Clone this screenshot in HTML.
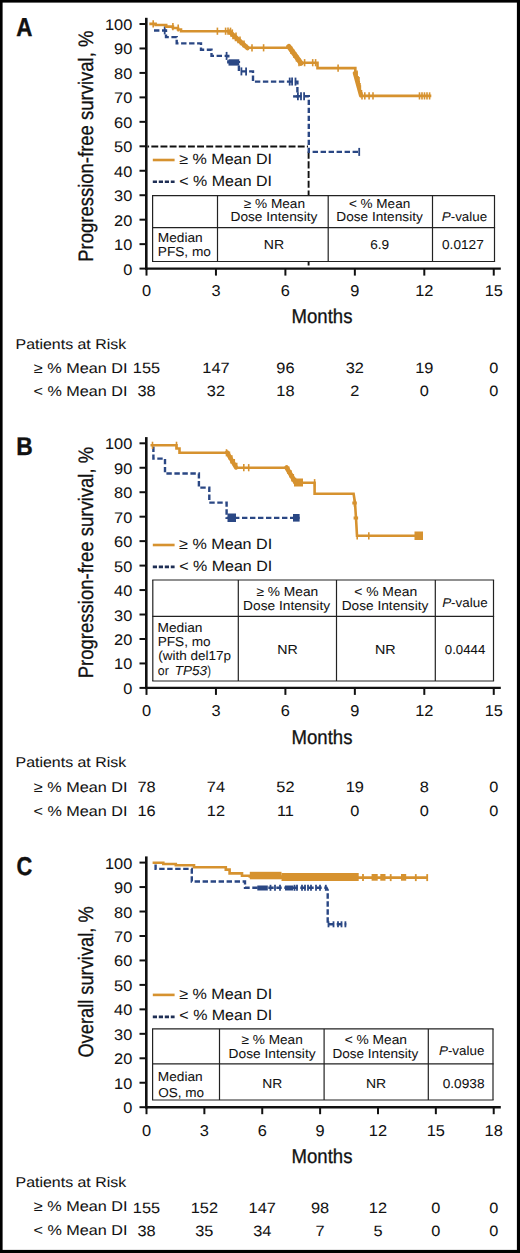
<!DOCTYPE html>
<html><head><meta charset="utf-8"><style>
html,body{margin:0;padding:0;background:#fff;}
body{width:520px;height:1253px;overflow:hidden;}
svg{display:block;}
text{font-family:"Liberation Sans",sans-serif;fill:#111;text-rendering:geometricPrecision;}
</style></head><body>
<svg width="520" height="1253" viewBox="0 0 520 1253">
<rect x="0" y="0" width="520" height="1253" fill="#fff"/>
<text x="16.19" y="36.40" font-size="26.04" textLength="16.17" lengthAdjust="spacingAndGlyphs" style="font-weight:bold;stroke:#111;stroke-width:0.4;">A</text>
<line x1="147.50" y1="146.60" x2="308.00" y2="146.60" stroke="#111" stroke-width="2.0" stroke-dasharray="6.9 2.25" stroke-dashoffset="5.3"/>
<line x1="308.60" y1="151.60" x2="308.60" y2="267.50" stroke="#111" stroke-width="1.9" stroke-dasharray="7.1 2.6"/>
<polyline points="154.00,30.50 166.00,30.50 166.00,37.10 176.70,37.10 176.70,43.40 201.00,43.40 201.00,49.70 211.50,49.70 211.50,55.90 228.30,55.90 228.30,62.30 238.90,62.30 238.90,71.40 253.00,71.40 253.00,81.60 297.40,81.60 297.40,96.30 308.80,96.30 308.80,151.90 359.20,151.90" fill="none" stroke="#2A4784" stroke-width="2.4" stroke-dasharray="5.4 2.6" stroke-linejoin="miter" stroke-linecap="butt"/>
<rect x="228.50" y="59.30" width="10.80" height="6.30" fill="#2A4784"/>
<line x1="293.10" y1="96.40" x2="297.40" y2="96.40" stroke="#2A4784" stroke-width="2.4" />
<line x1="164.70" y1="26.40" x2="164.70" y2="34.40" stroke="#2A4784" stroke-width="1.8" />
<line x1="226.60" y1="51.90" x2="226.60" y2="59.90" stroke="#2A4784" stroke-width="1.8" />
<line x1="241.40" y1="67.40" x2="241.40" y2="75.40" stroke="#2A4784" stroke-width="1.8" />
<line x1="246.10" y1="67.40" x2="246.10" y2="75.40" stroke="#2A4784" stroke-width="1.8" />
<line x1="289.70" y1="77.60" x2="289.70" y2="85.60" stroke="#2A4784" stroke-width="1.8" />
<line x1="292.10" y1="77.60" x2="292.10" y2="85.60" stroke="#2A4784" stroke-width="1.8" />
<line x1="295.50" y1="77.60" x2="295.50" y2="85.60" stroke="#2A4784" stroke-width="1.8" />
<line x1="297.90" y1="92.30" x2="297.90" y2="100.30" stroke="#2A4784" stroke-width="1.8" />
<line x1="301.00" y1="92.30" x2="301.00" y2="100.30" stroke="#2A4784" stroke-width="1.8" />
<line x1="304.10" y1="92.30" x2="304.10" y2="100.30" stroke="#2A4784" stroke-width="1.8" />
<line x1="359.20" y1="147.90" x2="359.20" y2="155.90" stroke="#2A4784" stroke-width="1.8" />
<polyline points="149.30,23.90 155.60,23.90 155.60,25.00 166.20,25.00 166.20,26.60 172.90,26.60 172.90,28.00 178.00,28.00 178.00,29.50 181.00,29.50 181.00,31.20 229.50,31.20 229.50,33.20 231.50,33.20 231.50,35.50 233.50,35.50 233.50,38.00 236.00,38.00 236.00,40.00 238.50,40.00 238.50,42.00 241.00,42.00 241.00,44.00 243.50,44.00 243.50,46.00 246.50,46.00 246.50,47.80 289.00,47.80 291.10,47.80 291.10,50.78 293.20,50.78 293.20,53.76 295.30,53.76 295.30,56.74 297.40,56.74 297.40,59.72 299.50,59.72 299.50,62.70 317.50,62.70 317.50,68.10 354.20,68.10 355.33,68.10 355.33,72.73 356.47,72.73 356.47,77.37 357.60,77.37 357.60,82.00 358.73,82.00 358.73,86.63 359.87,86.63 359.87,91.27 361.00,91.27 361.00,95.90 431.30,95.90" fill="none" stroke="#D6922F" stroke-width="2.6" stroke-linejoin="miter"/>
<line x1="229.50" y1="31.60" x2="247.50" y2="48.00" stroke="#D6922F" stroke-width="4.6" stroke-linecap="round"/>
<line x1="288.80" y1="46.50" x2="301.00" y2="63.20" stroke="#D6922F" stroke-width="5.2" stroke-linecap="round"/>
<line x1="354.60" y1="73.00" x2="360.80" y2="95.50" stroke="#D6922F" stroke-width="3.8" stroke-linecap="round"/>
<line x1="153.20" y1="20.20" x2="153.20" y2="27.40" stroke="#D6922F" stroke-width="1.6" />
<line x1="172.90" y1="23.00" x2="172.90" y2="30.20" stroke="#D6922F" stroke-width="1.6" />
<line x1="178.20" y1="24.40" x2="178.20" y2="31.60" stroke="#D6922F" stroke-width="1.6" />
<line x1="217.40" y1="27.60" x2="217.40" y2="34.80" stroke="#D6922F" stroke-width="1.6" />
<line x1="225.60" y1="27.60" x2="225.60" y2="34.80" stroke="#D6922F" stroke-width="1.6" />
<line x1="228.00" y1="27.60" x2="228.00" y2="34.80" stroke="#D6922F" stroke-width="1.6" />
<line x1="230.50" y1="27.60" x2="230.50" y2="34.80" stroke="#D6922F" stroke-width="1.6" />
<line x1="232.30" y1="29.40" x2="232.30" y2="36.60" stroke="#D6922F" stroke-width="1.6" />
<line x1="236.00" y1="32.40" x2="236.00" y2="39.60" stroke="#D6922F" stroke-width="1.6" />
<line x1="240.00" y1="36.40" x2="240.00" y2="43.60" stroke="#D6922F" stroke-width="1.6" />
<line x1="244.00" y1="40.40" x2="244.00" y2="47.60" stroke="#D6922F" stroke-width="1.6" />
<line x1="252.00" y1="44.20" x2="252.00" y2="51.40" stroke="#D6922F" stroke-width="1.6" />
<line x1="263.60" y1="44.20" x2="263.60" y2="51.40" stroke="#D6922F" stroke-width="1.6" />
<line x1="291.00" y1="46.90" x2="291.00" y2="54.10" stroke="#D6922F" stroke-width="1.6" />
<line x1="294.00" y1="50.90" x2="294.00" y2="58.10" stroke="#D6922F" stroke-width="1.6" />
<line x1="296.50" y1="54.40" x2="296.50" y2="61.60" stroke="#D6922F" stroke-width="1.6" />
<line x1="299.00" y1="59.10" x2="299.00" y2="66.30" stroke="#D6922F" stroke-width="1.6" />
<line x1="304.60" y1="59.10" x2="304.60" y2="66.30" stroke="#D6922F" stroke-width="1.6" />
<line x1="312.70" y1="59.10" x2="312.70" y2="66.30" stroke="#D6922F" stroke-width="1.6" />
<line x1="315.60" y1="59.10" x2="315.60" y2="66.30" stroke="#D6922F" stroke-width="1.6" />
<line x1="338.10" y1="64.50" x2="338.10" y2="71.70" stroke="#D6922F" stroke-width="1.6" />
<line x1="357.00" y1="70.60" x2="357.00" y2="77.80" stroke="#D6922F" stroke-width="1.6" />
<line x1="359.00" y1="76.90" x2="359.00" y2="84.10" stroke="#D6922F" stroke-width="1.6" />
<line x1="360.00" y1="83.10" x2="360.00" y2="90.30" stroke="#D6922F" stroke-width="1.6" />
<line x1="362.00" y1="92.30" x2="362.00" y2="99.50" stroke="#D6922F" stroke-width="1.6" />
<line x1="364.80" y1="92.30" x2="364.80" y2="99.50" stroke="#D6922F" stroke-width="1.6" />
<line x1="369.10" y1="92.30" x2="369.10" y2="99.50" stroke="#D6922F" stroke-width="1.6" />
<line x1="373.00" y1="92.30" x2="373.00" y2="99.50" stroke="#D6922F" stroke-width="1.6" />
<line x1="419.50" y1="92.30" x2="419.50" y2="99.50" stroke="#D6922F" stroke-width="1.6" />
<line x1="422.00" y1="92.30" x2="422.00" y2="99.50" stroke="#D6922F" stroke-width="1.6" />
<line x1="424.50" y1="92.30" x2="424.50" y2="99.50" stroke="#D6922F" stroke-width="1.6" />
<line x1="427.00" y1="92.30" x2="427.00" y2="99.50" stroke="#D6922F" stroke-width="1.6" />
<line x1="429.60" y1="92.30" x2="429.60" y2="99.50" stroke="#D6922F" stroke-width="1.6" />
<line x1="152.80" y1="160.00" x2="174.60" y2="160.00" stroke="#D6922F" stroke-width="2.6" />
<line x1="152.80" y1="181.80" x2="174.60" y2="181.80" stroke="#1F2F55" stroke-width="2.6" stroke-dasharray="4.2 1.8"/>
<text x="179.19" y="164.28" font-size="14.73" textLength="92.83" lengthAdjust="spacingAndGlyphs" style="stroke:#111;stroke-width:0.05;">≥ % Mean DI</text>
<text x="179.38" y="186.17" font-size="14.73" textLength="92.63" lengthAdjust="spacingAndGlyphs" style="stroke:#111;stroke-width:0.05;">&lt; % Mean DI</text>
<rect x="152.60" y="195.70" width="341.90" height="65.80" fill="#fff"/>
<line x1="152.00" y1="195.70" x2="495.10" y2="195.70" stroke="#222" stroke-width="1.2" />
<line x1="152.00" y1="227.70" x2="495.10" y2="227.70" stroke="#222" stroke-width="1.2" />
<line x1="152.00" y1="261.50" x2="495.10" y2="261.50" stroke="#222" stroke-width="1.2" />
<line x1="152.60" y1="195.70" x2="152.60" y2="261.50" stroke="#222" stroke-width="1.2" />
<line x1="217.50" y1="195.70" x2="217.50" y2="261.50" stroke="#222" stroke-width="1.2" />
<line x1="328.20" y1="195.70" x2="328.20" y2="261.50" stroke="#222" stroke-width="1.2" />
<line x1="432.50" y1="195.70" x2="432.50" y2="261.50" stroke="#222" stroke-width="1.2" />
<line x1="494.50" y1="195.70" x2="494.50" y2="261.50" stroke="#222" stroke-width="1.2" />
<text x="157.78" y="242.28" font-size="12.93" textLength="44.94" lengthAdjust="spacingAndGlyphs" style="stroke:#111;stroke-width:0.05;">Median</text>
<text x="157.78" y="255.88" font-size="12.93" textLength="53.19" lengthAdjust="spacingAndGlyphs" style="stroke:#111;stroke-width:0.05;">PFS, mo</text>
<text x="243.77" y="207.78" font-size="12.93" textLength="61.25" lengthAdjust="spacingAndGlyphs" style="stroke:#111;stroke-width:0.05;">≥ % Mean</text>
<text x="230.48" y="221.17" font-size="12.93" textLength="86.94" lengthAdjust="spacingAndGlyphs" style="stroke:#111;stroke-width:0.05;">Dose Intensity</text>
<text x="263.85" y="249.47" font-size="12.93" textLength="20.27" lengthAdjust="spacingAndGlyphs" style="stroke:#111;stroke-width:0.05;">NR</text>
<text x="348.90" y="207.78" font-size="12.93" textLength="61.31" lengthAdjust="spacingAndGlyphs" style="stroke:#111;stroke-width:0.05;">&lt; % Mean</text>
<text x="336.28" y="221.17" font-size="12.93" textLength="86.53" lengthAdjust="spacingAndGlyphs" style="stroke:#111;stroke-width:0.05;">Dose Intensity</text>
<text x="370.19" y="249.28" font-size="12.93" textLength="18.95" lengthAdjust="spacingAndGlyphs" style="stroke:#111;stroke-width:0.05;">6.9</text>
<text x="441.77" y="221.38" font-size="12.83" textLength="8.92" lengthAdjust="spacingAndGlyphs" style="font-style:italic;stroke:#111;stroke-width:0.05">P</text>
<text x="450.69" y="221.38" font-size="12.83" textLength="36.42" lengthAdjust="spacingAndGlyphs" style="stroke:#111;stroke-width:0.05">-value</text>
<text x="442.03" y="249.28" font-size="12.93" textLength="41.76" lengthAdjust="spacingAndGlyphs" style="stroke:#111;stroke-width:0.05;">0.0127</text>
<line x1="146.30" y1="17.80" x2="146.30" y2="269.80" stroke="#111" stroke-width="2.6" />
<line x1="145.30" y1="268.60" x2="500.80" y2="268.60" stroke="#111" stroke-width="2.4" />
<line x1="139.50" y1="268.60" x2="146.50" y2="268.60" stroke="#111" stroke-width="2.0" />
<text x="123.15" y="274.60" font-size="15.33" textLength="9.10" lengthAdjust="spacingAndGlyphs" style="stroke:#111;stroke-width:0.05;">0</text>
<line x1="139.50" y1="244.14" x2="146.50" y2="244.14" stroke="#111" stroke-width="2.0" />
<text x="114.07" y="250.14" font-size="15.33" textLength="18.19" lengthAdjust="spacingAndGlyphs" style="stroke:#111;stroke-width:0.05;">10</text>
<line x1="139.50" y1="219.68" x2="146.50" y2="219.68" stroke="#111" stroke-width="2.0" />
<text x="114.07" y="225.68" font-size="15.33" textLength="18.19" lengthAdjust="spacingAndGlyphs" style="stroke:#111;stroke-width:0.05;">20</text>
<line x1="139.50" y1="195.22" x2="146.50" y2="195.22" stroke="#111" stroke-width="2.0" />
<text x="114.07" y="201.22" font-size="15.33" textLength="18.19" lengthAdjust="spacingAndGlyphs" style="stroke:#111;stroke-width:0.05;">30</text>
<line x1="139.50" y1="170.76" x2="146.50" y2="170.76" stroke="#111" stroke-width="2.0" />
<text x="114.07" y="176.76" font-size="15.33" textLength="18.19" lengthAdjust="spacingAndGlyphs" style="stroke:#111;stroke-width:0.05;">40</text>
<line x1="139.50" y1="146.30" x2="146.50" y2="146.30" stroke="#111" stroke-width="2.0" />
<text x="114.07" y="152.30" font-size="15.33" textLength="18.19" lengthAdjust="spacingAndGlyphs" style="stroke:#111;stroke-width:0.05;">50</text>
<line x1="139.50" y1="121.84" x2="146.50" y2="121.84" stroke="#111" stroke-width="2.0" />
<text x="114.07" y="127.84" font-size="15.33" textLength="18.19" lengthAdjust="spacingAndGlyphs" style="stroke:#111;stroke-width:0.05;">60</text>
<line x1="139.50" y1="97.38" x2="146.50" y2="97.38" stroke="#111" stroke-width="2.0" />
<text x="114.07" y="103.38" font-size="15.33" textLength="18.19" lengthAdjust="spacingAndGlyphs" style="stroke:#111;stroke-width:0.05;">70</text>
<line x1="139.50" y1="72.92" x2="146.50" y2="72.92" stroke="#111" stroke-width="2.0" />
<text x="114.07" y="78.92" font-size="15.33" textLength="18.19" lengthAdjust="spacingAndGlyphs" style="stroke:#111;stroke-width:0.05;">80</text>
<line x1="139.50" y1="48.46" x2="146.50" y2="48.46" stroke="#111" stroke-width="2.0" />
<text x="114.07" y="54.46" font-size="15.33" textLength="18.19" lengthAdjust="spacingAndGlyphs" style="stroke:#111;stroke-width:0.05;">90</text>
<line x1="139.50" y1="24.00" x2="146.50" y2="24.00" stroke="#111" stroke-width="2.0" />
<text x="104.99" y="30.00" font-size="15.33" textLength="27.29" lengthAdjust="spacingAndGlyphs" style="stroke:#111;stroke-width:0.05;">100</text>
<line x1="146.50" y1="268.60" x2="146.50" y2="275.60" stroke="#111" stroke-width="2.0" />
<text x="141.95" y="295.58" font-size="15.73" textLength="9.10" lengthAdjust="spacingAndGlyphs" style="stroke:#111;stroke-width:0.05;">0</text>
<line x1="215.95" y1="268.60" x2="215.95" y2="275.60" stroke="#111" stroke-width="2.0" />
<text x="211.40" y="295.58" font-size="15.73" textLength="9.10" lengthAdjust="spacingAndGlyphs" style="stroke:#111;stroke-width:0.05;">3</text>
<line x1="285.40" y1="268.60" x2="285.40" y2="275.60" stroke="#111" stroke-width="2.0" />
<text x="280.85" y="295.58" font-size="15.73" textLength="9.10" lengthAdjust="spacingAndGlyphs" style="stroke:#111;stroke-width:0.05;">6</text>
<line x1="354.85" y1="268.60" x2="354.85" y2="275.60" stroke="#111" stroke-width="2.0" />
<text x="350.30" y="295.58" font-size="15.73" textLength="9.10" lengthAdjust="spacingAndGlyphs" style="stroke:#111;stroke-width:0.05;">9</text>
<line x1="424.30" y1="268.60" x2="424.30" y2="275.60" stroke="#111" stroke-width="2.0" />
<text x="415.20" y="295.58" font-size="15.73" textLength="18.20" lengthAdjust="spacingAndGlyphs" style="stroke:#111;stroke-width:0.05;">12</text>
<line x1="493.75" y1="268.60" x2="493.75" y2="275.60" stroke="#111" stroke-width="2.0" />
<text x="484.65" y="295.58" font-size="15.73" textLength="18.20" lengthAdjust="spacingAndGlyphs" style="stroke:#111;stroke-width:0.05;">15</text>
<text x="291.51" y="323.35" font-size="20.08" textLength="60.92" lengthAdjust="spacingAndGlyphs" style="stroke:#111;stroke-width:0.3;">Months</text>
<text transform="translate(92.65,261.78) rotate(-90)" x="0" y="0" font-size="20.88" textLength="231.12" lengthAdjust="spacingAndGlyphs" style="stroke:#111;stroke-width:0.3;">Progression-free survival, %</text>
<text x="15.60" y="349.18" font-size="14.23" textLength="110.56" lengthAdjust="spacingAndGlyphs" style="stroke:#111;stroke-width:0.05;">Patients at Risk</text>
<text x="33.89" y="373.18" font-size="14.23" textLength="93.54" lengthAdjust="spacingAndGlyphs" style="stroke:#111;stroke-width:0.05;">≥ % Mean DI</text>
<text x="33.57" y="396.28" font-size="14.23" textLength="93.86" lengthAdjust="spacingAndGlyphs" style="stroke:#111;stroke-width:0.05;">&lt; % Mean DI</text>
<text x="132.86" y="372.78" font-size="14.93" textLength="27.28" lengthAdjust="spacingAndGlyphs" style="stroke:#111;stroke-width:0.05;">155</text>
<text x="202.31" y="372.78" font-size="14.93" textLength="27.28" lengthAdjust="spacingAndGlyphs" style="stroke:#111;stroke-width:0.05;">147</text>
<text x="276.31" y="372.78" font-size="14.93" textLength="18.18" lengthAdjust="spacingAndGlyphs" style="stroke:#111;stroke-width:0.05;">96</text>
<text x="345.76" y="372.78" font-size="14.93" textLength="18.18" lengthAdjust="spacingAndGlyphs" style="stroke:#111;stroke-width:0.05;">32</text>
<text x="415.21" y="372.78" font-size="14.93" textLength="18.18" lengthAdjust="spacingAndGlyphs" style="stroke:#111;stroke-width:0.05;">19</text>
<text x="489.20" y="372.78" font-size="14.93" textLength="9.09" lengthAdjust="spacingAndGlyphs" style="stroke:#111;stroke-width:0.05;">0</text>
<text x="137.41" y="396.48" font-size="14.93" textLength="18.18" lengthAdjust="spacingAndGlyphs" style="stroke:#111;stroke-width:0.05;">38</text>
<text x="206.86" y="396.48" font-size="14.93" textLength="18.18" lengthAdjust="spacingAndGlyphs" style="stroke:#111;stroke-width:0.05;">32</text>
<text x="276.31" y="396.48" font-size="14.93" textLength="18.18" lengthAdjust="spacingAndGlyphs" style="stroke:#111;stroke-width:0.05;">18</text>
<text x="350.30" y="396.48" font-size="14.93" textLength="9.09" lengthAdjust="spacingAndGlyphs" style="stroke:#111;stroke-width:0.05;">2</text>
<text x="419.75" y="396.48" font-size="14.93" textLength="9.09" lengthAdjust="spacingAndGlyphs" style="stroke:#111;stroke-width:0.05;">0</text>
<text x="489.20" y="396.48" font-size="14.93" textLength="9.09" lengthAdjust="spacingAndGlyphs" style="stroke:#111;stroke-width:0.05;">0</text>
<text x="16.37" y="455.30" font-size="25.64" textLength="16.46" lengthAdjust="spacingAndGlyphs" style="font-weight:bold;stroke:#111;stroke-width:0.4;">B</text>
<polyline points="153.40,446.50 153.40,458.60 165.00,458.60 165.00,473.50 198.90,473.50 198.90,487.60 209.30,487.60 209.30,502.60 226.60,502.60 226.60,517.90 299.60,517.90" fill="none" stroke="#2A4784" stroke-width="2.4" stroke-dasharray="5.4 2.6" stroke-linejoin="miter" stroke-linecap="butt"/>
<rect x="227.50" y="513.50" width="8.50" height="8.50" fill="#2A4784"/>
<rect x="293.00" y="514.00" width="6.60" height="7.60" fill="#2A4784"/>
<polyline points="150.50,445.30 176.50,445.30 176.50,448.50 179.50,448.50 179.50,452.80 226.50,452.80 228.93,452.80 228.93,456.52 231.35,456.52 231.35,460.25 233.77,460.25 233.77,463.98 236.20,463.98 236.20,467.70 286.00,467.70 288.25,467.70 288.25,471.45 290.50,471.45 290.50,475.20 292.75,475.20 292.75,478.95 295.00,478.95 295.00,482.70 314.60,482.70 314.60,493.70 353.60,493.70 355.00,503.00 356.00,518.00 357.00,535.80 422.70,535.80" fill="none" stroke="#D6922F" stroke-width="2.6" stroke-linejoin="miter"/>
<rect x="294.00" y="478.50" width="9.00" height="8.00" fill="#D6922F"/>
<line x1="227.20" y1="452.50" x2="236.00" y2="467.50" stroke="#D6922F" stroke-width="4.4" stroke-linecap="round"/>
<line x1="286.50" y1="467.50" x2="295.50" y2="482.50" stroke="#D6922F" stroke-width="4.6" stroke-linecap="round"/>
<rect x="414.50" y="531.50" width="8.50" height="8.50" fill="#D6922F"/>
<rect x="352.30" y="501.50" width="4.50" height="3.00" fill="#D6922F"/>
<rect x="353.60" y="516.50" width="4.50" height="3.00" fill="#D6922F"/>
<line x1="152.50" y1="441.70" x2="152.50" y2="448.90" stroke="#D6922F" stroke-width="1.6" />
<line x1="176.50" y1="441.70" x2="176.50" y2="448.90" stroke="#D6922F" stroke-width="1.6" />
<line x1="226.50" y1="449.20" x2="226.50" y2="456.40" stroke="#D6922F" stroke-width="1.6" />
<line x1="229.00" y1="452.40" x2="229.00" y2="459.60" stroke="#D6922F" stroke-width="1.6" />
<line x1="231.00" y1="456.40" x2="231.00" y2="463.60" stroke="#D6922F" stroke-width="1.6" />
<line x1="243.80" y1="464.10" x2="243.80" y2="471.30" stroke="#D6922F" stroke-width="1.6" />
<line x1="248.70" y1="464.10" x2="248.70" y2="471.30" stroke="#D6922F" stroke-width="1.6" />
<line x1="288.00" y1="466.90" x2="288.00" y2="474.10" stroke="#D6922F" stroke-width="1.6" />
<line x1="290.00" y1="470.40" x2="290.00" y2="477.60" stroke="#D6922F" stroke-width="1.6" />
<line x1="292.00" y1="474.40" x2="292.00" y2="481.60" stroke="#D6922F" stroke-width="1.6" />
<line x1="314.60" y1="479.10" x2="314.60" y2="486.30" stroke="#D6922F" stroke-width="1.6" />
<line x1="354.50" y1="499.40" x2="354.50" y2="506.60" stroke="#D6922F" stroke-width="1.6" />
<line x1="355.80" y1="514.40" x2="355.80" y2="521.60" stroke="#D6922F" stroke-width="1.6" />
<line x1="357.20" y1="532.20" x2="357.20" y2="539.40" stroke="#D6922F" stroke-width="1.6" />
<line x1="368.80" y1="532.20" x2="368.80" y2="539.40" stroke="#D6922F" stroke-width="1.6" />
<line x1="152.80" y1="545.00" x2="174.60" y2="545.00" stroke="#D6922F" stroke-width="2.6" />
<line x1="152.80" y1="566.90" x2="174.60" y2="566.90" stroke="#1F2F55" stroke-width="2.6" stroke-dasharray="4.2 1.8"/>
<text x="179.09" y="549.27" font-size="14.73" textLength="93.13" lengthAdjust="spacingAndGlyphs" style="stroke:#111;stroke-width:0.05;">≥ % Mean DI</text>
<text x="179.27" y="571.18" font-size="14.73" textLength="92.94" lengthAdjust="spacingAndGlyphs" style="stroke:#111;stroke-width:0.05;">&lt; % Mean DI</text>
<rect x="152.80" y="580.00" width="340.70" height="101.00" fill="#fff"/>
<line x1="152.20" y1="580.00" x2="494.10" y2="580.00" stroke="#222" stroke-width="1.2" />
<line x1="152.20" y1="616.30" x2="494.10" y2="616.30" stroke="#222" stroke-width="1.2" />
<line x1="152.20" y1="681.00" x2="494.10" y2="681.00" stroke="#222" stroke-width="1.2" />
<line x1="152.80" y1="580.00" x2="152.80" y2="681.00" stroke="#222" stroke-width="1.2" />
<line x1="238.30" y1="580.00" x2="238.30" y2="681.00" stroke="#222" stroke-width="1.2" />
<line x1="336.50" y1="580.00" x2="336.50" y2="681.00" stroke="#222" stroke-width="1.2" />
<line x1="435.30" y1="580.00" x2="435.30" y2="681.00" stroke="#222" stroke-width="1.2" />
<line x1="493.50" y1="580.00" x2="493.50" y2="681.00" stroke="#222" stroke-width="1.2" />
<text x="157.48" y="631.98" font-size="12.93" textLength="45.04" lengthAdjust="spacingAndGlyphs" style="stroke:#111;stroke-width:0.05;">Median</text>
<text x="157.69" y="646.18" font-size="12.93" textLength="52.98" lengthAdjust="spacingAndGlyphs" style="stroke:#111;stroke-width:0.05;">PFS, mo</text>
<text x="158.26" y="660.38" font-size="12.93" textLength="72.83" lengthAdjust="spacingAndGlyphs" style="stroke:#111;stroke-width:0.05;">(with del17p</text>
<text x="157.78" y="674.77" font-size="12.93" textLength="10.98" lengthAdjust="spacingAndGlyphs" style="stroke:#111;stroke-width:0.05;">or</text>
<text x="174.86" y="674.77" font-size="12.93" textLength="32.20" lengthAdjust="spacingAndGlyphs" style="font-style:italic;stroke:#111;stroke-width:0.05;">TP53</text>
<text x="207.47" y="674.77" font-size="12.93" textLength="3.39" lengthAdjust="spacingAndGlyphs" style="stroke:#111;stroke-width:0.05;">)</text>
<text x="256.46" y="596.18" font-size="12.93" textLength="61.76" lengthAdjust="spacingAndGlyphs" style="stroke:#111;stroke-width:0.05;">≥ % Mean</text>
<text x="243.08" y="609.58" font-size="12.93" textLength="87.04" lengthAdjust="spacingAndGlyphs" style="stroke:#111;stroke-width:0.05;">Dose Intensity</text>
<text x="277.24" y="654.18" font-size="12.93" textLength="20.48" lengthAdjust="spacingAndGlyphs" style="stroke:#111;stroke-width:0.05;">NR</text>
<text x="354.18" y="596.18" font-size="12.93" textLength="62.95" lengthAdjust="spacingAndGlyphs" style="stroke:#111;stroke-width:0.05;">&lt; % Mean</text>
<text x="341.68" y="609.58" font-size="12.93" textLength="86.73" lengthAdjust="spacingAndGlyphs" style="stroke:#111;stroke-width:0.05;">Dose Intensity</text>
<text x="375.03" y="654.18" font-size="12.93" textLength="20.70" lengthAdjust="spacingAndGlyphs" style="stroke:#111;stroke-width:0.05;">NR</text>
<text x="442.17" y="607.38" font-size="12.83" textLength="8.94" lengthAdjust="spacingAndGlyphs" style="font-style:italic;stroke:#111;stroke-width:0.05">P</text>
<text x="451.11" y="607.38" font-size="12.83" textLength="36.50" lengthAdjust="spacingAndGlyphs" style="stroke:#111;stroke-width:0.05">-value</text>
<text x="444.85" y="654.18" font-size="12.93" textLength="40.46" lengthAdjust="spacingAndGlyphs" style="stroke:#111;stroke-width:0.05;">0.0444</text>
<line x1="146.30" y1="437.10" x2="146.30" y2="689.10" stroke="#111" stroke-width="2.6" />
<line x1="145.30" y1="687.90" x2="500.80" y2="687.90" stroke="#111" stroke-width="2.4" />
<line x1="139.50" y1="687.90" x2="146.50" y2="687.90" stroke="#111" stroke-width="2.0" />
<text x="123.15" y="693.90" font-size="15.33" textLength="9.10" lengthAdjust="spacingAndGlyphs" style="stroke:#111;stroke-width:0.05;">0</text>
<line x1="139.50" y1="663.44" x2="146.50" y2="663.44" stroke="#111" stroke-width="2.0" />
<text x="114.07" y="669.44" font-size="15.33" textLength="18.19" lengthAdjust="spacingAndGlyphs" style="stroke:#111;stroke-width:0.05;">10</text>
<line x1="139.50" y1="638.98" x2="146.50" y2="638.98" stroke="#111" stroke-width="2.0" />
<text x="114.07" y="644.98" font-size="15.33" textLength="18.19" lengthAdjust="spacingAndGlyphs" style="stroke:#111;stroke-width:0.05;">20</text>
<line x1="139.50" y1="614.52" x2="146.50" y2="614.52" stroke="#111" stroke-width="2.0" />
<text x="114.07" y="620.52" font-size="15.33" textLength="18.19" lengthAdjust="spacingAndGlyphs" style="stroke:#111;stroke-width:0.05;">30</text>
<line x1="139.50" y1="590.06" x2="146.50" y2="590.06" stroke="#111" stroke-width="2.0" />
<text x="114.07" y="596.06" font-size="15.33" textLength="18.19" lengthAdjust="spacingAndGlyphs" style="stroke:#111;stroke-width:0.05;">40</text>
<line x1="139.50" y1="565.60" x2="146.50" y2="565.60" stroke="#111" stroke-width="2.0" />
<text x="114.07" y="571.60" font-size="15.33" textLength="18.19" lengthAdjust="spacingAndGlyphs" style="stroke:#111;stroke-width:0.05;">50</text>
<line x1="139.50" y1="541.14" x2="146.50" y2="541.14" stroke="#111" stroke-width="2.0" />
<text x="114.07" y="547.14" font-size="15.33" textLength="18.19" lengthAdjust="spacingAndGlyphs" style="stroke:#111;stroke-width:0.05;">60</text>
<line x1="139.50" y1="516.68" x2="146.50" y2="516.68" stroke="#111" stroke-width="2.0" />
<text x="114.07" y="522.68" font-size="15.33" textLength="18.19" lengthAdjust="spacingAndGlyphs" style="stroke:#111;stroke-width:0.05;">70</text>
<line x1="139.50" y1="492.22" x2="146.50" y2="492.22" stroke="#111" stroke-width="2.0" />
<text x="114.07" y="498.22" font-size="15.33" textLength="18.19" lengthAdjust="spacingAndGlyphs" style="stroke:#111;stroke-width:0.05;">80</text>
<line x1="139.50" y1="467.76" x2="146.50" y2="467.76" stroke="#111" stroke-width="2.0" />
<text x="114.07" y="473.76" font-size="15.33" textLength="18.19" lengthAdjust="spacingAndGlyphs" style="stroke:#111;stroke-width:0.05;">90</text>
<line x1="139.50" y1="443.30" x2="146.50" y2="443.30" stroke="#111" stroke-width="2.0" />
<text x="104.99" y="449.30" font-size="15.33" textLength="27.29" lengthAdjust="spacingAndGlyphs" style="stroke:#111;stroke-width:0.05;">100</text>
<line x1="146.50" y1="687.90" x2="146.50" y2="694.90" stroke="#111" stroke-width="2.0" />
<text x="141.95" y="716.08" font-size="15.73" textLength="9.10" lengthAdjust="spacingAndGlyphs" style="stroke:#111;stroke-width:0.05;">0</text>
<line x1="215.95" y1="687.90" x2="215.95" y2="694.90" stroke="#111" stroke-width="2.0" />
<text x="211.40" y="716.08" font-size="15.73" textLength="9.10" lengthAdjust="spacingAndGlyphs" style="stroke:#111;stroke-width:0.05;">3</text>
<line x1="285.40" y1="687.90" x2="285.40" y2="694.90" stroke="#111" stroke-width="2.0" />
<text x="280.85" y="716.08" font-size="15.73" textLength="9.10" lengthAdjust="spacingAndGlyphs" style="stroke:#111;stroke-width:0.05;">6</text>
<line x1="354.85" y1="687.90" x2="354.85" y2="694.90" stroke="#111" stroke-width="2.0" />
<text x="350.30" y="716.08" font-size="15.73" textLength="9.10" lengthAdjust="spacingAndGlyphs" style="stroke:#111;stroke-width:0.05;">9</text>
<line x1="424.30" y1="687.90" x2="424.30" y2="694.90" stroke="#111" stroke-width="2.0" />
<text x="415.20" y="716.08" font-size="15.73" textLength="18.20" lengthAdjust="spacingAndGlyphs" style="stroke:#111;stroke-width:0.05;">12</text>
<line x1="493.75" y1="687.90" x2="493.75" y2="694.90" stroke="#111" stroke-width="2.0" />
<text x="484.65" y="716.08" font-size="15.73" textLength="18.20" lengthAdjust="spacingAndGlyphs" style="stroke:#111;stroke-width:0.05;">15</text>
<text x="291.51" y="744.35" font-size="20.08" textLength="60.92" lengthAdjust="spacingAndGlyphs" style="stroke:#111;stroke-width:0.3;">Months</text>
<text transform="translate(92.65,678.28) rotate(-90)" x="0" y="0" font-size="20.88" textLength="231.52" lengthAdjust="spacingAndGlyphs" style="stroke:#111;stroke-width:0.3;">Progression-free survival, %</text>
<text x="15.60" y="767.48" font-size="14.23" textLength="110.56" lengthAdjust="spacingAndGlyphs" style="stroke:#111;stroke-width:0.05;">Patients at Risk</text>
<text x="33.89" y="791.98" font-size="14.23" textLength="93.54" lengthAdjust="spacingAndGlyphs" style="stroke:#111;stroke-width:0.05;">≥ % Mean DI</text>
<text x="33.57" y="815.77" font-size="14.23" textLength="93.86" lengthAdjust="spacingAndGlyphs" style="stroke:#111;stroke-width:0.05;">&lt; % Mean DI</text>
<text x="137.41" y="792.18" font-size="14.93" textLength="18.18" lengthAdjust="spacingAndGlyphs" style="stroke:#111;stroke-width:0.05;">78</text>
<text x="206.86" y="792.18" font-size="14.93" textLength="18.18" lengthAdjust="spacingAndGlyphs" style="stroke:#111;stroke-width:0.05;">74</text>
<text x="276.31" y="792.18" font-size="14.93" textLength="18.18" lengthAdjust="spacingAndGlyphs" style="stroke:#111;stroke-width:0.05;">52</text>
<text x="345.76" y="792.18" font-size="14.93" textLength="18.18" lengthAdjust="spacingAndGlyphs" style="stroke:#111;stroke-width:0.05;">19</text>
<text x="419.75" y="792.18" font-size="14.93" textLength="9.09" lengthAdjust="spacingAndGlyphs" style="stroke:#111;stroke-width:0.05;">8</text>
<text x="489.20" y="792.18" font-size="14.93" textLength="9.09" lengthAdjust="spacingAndGlyphs" style="stroke:#111;stroke-width:0.05;">0</text>
<text x="137.41" y="815.88" font-size="14.93" textLength="18.18" lengthAdjust="spacingAndGlyphs" style="stroke:#111;stroke-width:0.05;">16</text>
<text x="206.86" y="815.88" font-size="14.93" textLength="18.18" lengthAdjust="spacingAndGlyphs" style="stroke:#111;stroke-width:0.05;">12</text>
<text x="276.91" y="815.88" font-size="14.93" textLength="16.97" lengthAdjust="spacingAndGlyphs" style="stroke:#111;stroke-width:0.05;">11</text>
<text x="350.30" y="815.88" font-size="14.93" textLength="9.09" lengthAdjust="spacingAndGlyphs" style="stroke:#111;stroke-width:0.05;">0</text>
<text x="419.75" y="815.88" font-size="14.93" textLength="9.09" lengthAdjust="spacingAndGlyphs" style="stroke:#111;stroke-width:0.05;">0</text>
<text x="489.20" y="815.88" font-size="14.93" textLength="9.09" lengthAdjust="spacingAndGlyphs" style="stroke:#111;stroke-width:0.05;">0</text>
<text x="16.58" y="875.40" font-size="25.74" textLength="15.77" lengthAdjust="spacingAndGlyphs" style="font-weight:bold;stroke:#111;stroke-width:0.4;">C</text>
<polyline points="155.60,864.50 155.60,868.90 191.80,868.90 191.80,881.50 245.00,881.50 245.00,887.80 326.50,887.80 327.70,890.00 327.70,924.30 346.30,924.30" fill="none" stroke="#2A4784" stroke-width="2.4" stroke-dasharray="5.4 2.6" stroke-linejoin="miter" stroke-linecap="butt"/>
<rect x="257.30" y="885.50" width="10.50" height="5.00" fill="#2A4784"/>
<rect x="285.00" y="885.50" width="8.00" height="5.00" fill="#2A4784"/>
<line x1="270.50" y1="884.80" x2="270.50" y2="890.80" stroke="#2A4784" stroke-width="1.8" />
<line x1="275.00" y1="884.80" x2="275.00" y2="890.80" stroke="#2A4784" stroke-width="1.8" />
<line x1="280.00" y1="884.80" x2="280.00" y2="890.80" stroke="#2A4784" stroke-width="1.8" />
<line x1="294.50" y1="884.80" x2="294.50" y2="890.80" stroke="#2A4784" stroke-width="1.8" />
<line x1="297.00" y1="884.80" x2="297.00" y2="890.80" stroke="#2A4784" stroke-width="1.8" />
<line x1="302.00" y1="884.80" x2="302.00" y2="890.80" stroke="#2A4784" stroke-width="1.8" />
<line x1="305.00" y1="884.80" x2="305.00" y2="890.80" stroke="#2A4784" stroke-width="1.8" />
<line x1="308.00" y1="884.80" x2="308.00" y2="890.80" stroke="#2A4784" stroke-width="1.8" />
<line x1="311.00" y1="884.80" x2="311.00" y2="890.80" stroke="#2A4784" stroke-width="1.8" />
<line x1="316.00" y1="884.80" x2="316.00" y2="890.80" stroke="#2A4784" stroke-width="1.8" />
<line x1="320.00" y1="884.80" x2="320.00" y2="890.80" stroke="#2A4784" stroke-width="1.8" />
<line x1="325.80" y1="884.80" x2="325.80" y2="890.80" stroke="#2A4784" stroke-width="1.8" />
<line x1="328.50" y1="921.30" x2="328.50" y2="927.30" stroke="#2A4784" stroke-width="1.8" />
<line x1="333.50" y1="921.30" x2="333.50" y2="927.30" stroke="#2A4784" stroke-width="1.8" />
<line x1="338.00" y1="921.30" x2="338.00" y2="927.30" stroke="#2A4784" stroke-width="1.8" />
<line x1="341.50" y1="921.30" x2="341.50" y2="927.30" stroke="#2A4784" stroke-width="1.8" />
<line x1="345.40" y1="921.30" x2="345.40" y2="927.30" stroke="#2A4784" stroke-width="1.8" />
<polyline points="152.60,862.80 163.30,862.80 163.30,864.00 175.80,864.00 175.80,865.20 194.00,865.20 194.00,867.30 225.80,867.30 225.80,869.60 229.60,869.60 229.60,873.40 242.00,873.40 242.00,875.80 249.80,875.80 249.80,876.50 281.50,876.50 281.50,877.60 427.50,877.60" fill="none" stroke="#D6922F" stroke-width="2.6" stroke-linejoin="miter"/>
<rect x="249.80" y="871.80" width="31.70" height="7.50" fill="#D6922F"/>
<rect x="281.50" y="873.00" width="77.20" height="8.00" fill="#D6922F"/>
<rect x="371.60" y="874.00" width="6.10" height="6.70" fill="#D6922F"/>
<rect x="380.30" y="874.00" width="5.20" height="6.70" fill="#D6922F"/>
<rect x="401.00" y="874.00" width="5.20" height="6.70" fill="#D6922F"/>
<line x1="363.00" y1="874.10" x2="363.00" y2="881.10" stroke="#D6922F" stroke-width="1.8" />
<line x1="390.70" y1="874.10" x2="390.70" y2="881.10" stroke="#D6922F" stroke-width="1.8" />
<line x1="415.80" y1="874.10" x2="415.80" y2="881.10" stroke="#D6922F" stroke-width="1.8" />
<line x1="427.20" y1="874.10" x2="427.20" y2="881.10" stroke="#D6922F" stroke-width="1.8" />
<line x1="152.80" y1="994.90" x2="174.60" y2="994.90" stroke="#D6922F" stroke-width="2.6" />
<line x1="152.80" y1="1016.90" x2="174.60" y2="1016.90" stroke="#1F2F55" stroke-width="2.6" stroke-dasharray="4.2 1.8"/>
<text x="179.19" y="999.08" font-size="14.73" textLength="93.03" lengthAdjust="spacingAndGlyphs" style="stroke:#111;stroke-width:0.05;">≥ % Mean DI</text>
<text x="179.38" y="1020.18" font-size="14.73" textLength="92.84" lengthAdjust="spacingAndGlyphs" style="stroke:#111;stroke-width:0.05;">&lt; % Mean DI</text>
<rect x="152.60" y="1028.90" width="340.40" height="71.10" fill="#fff"/>
<line x1="152.00" y1="1028.90" x2="493.60" y2="1028.90" stroke="#222" stroke-width="1.2" />
<line x1="152.00" y1="1063.80" x2="493.60" y2="1063.80" stroke="#222" stroke-width="1.2" />
<line x1="152.00" y1="1100.00" x2="493.60" y2="1100.00" stroke="#222" stroke-width="1.2" />
<line x1="152.60" y1="1028.90" x2="152.60" y2="1100.00" stroke="#222" stroke-width="1.2" />
<line x1="219.50" y1="1028.90" x2="219.50" y2="1100.00" stroke="#222" stroke-width="1.2" />
<line x1="324.10" y1="1028.90" x2="324.10" y2="1100.00" stroke="#222" stroke-width="1.2" />
<line x1="428.30" y1="1028.90" x2="428.30" y2="1100.00" stroke="#222" stroke-width="1.2" />
<line x1="493.00" y1="1028.90" x2="493.00" y2="1100.00" stroke="#222" stroke-width="1.2" />
<text x="157.78" y="1080.77" font-size="12.93" textLength="44.94" lengthAdjust="spacingAndGlyphs" style="stroke:#111;stroke-width:0.05;">Median</text>
<text x="158.27" y="1096.88" font-size="12.93" textLength="45.90" lengthAdjust="spacingAndGlyphs" style="stroke:#111;stroke-width:0.05;">OS, mo</text>
<text x="241.47" y="1044.38" font-size="12.93" textLength="61.25" lengthAdjust="spacingAndGlyphs" style="stroke:#111;stroke-width:0.05;">≥ % Mean</text>
<text x="228.58" y="1058.17" font-size="12.93" textLength="87.04" lengthAdjust="spacingAndGlyphs" style="stroke:#111;stroke-width:0.05;">Dose Intensity</text>
<text x="262.27" y="1087.77" font-size="12.93" textLength="19.94" lengthAdjust="spacingAndGlyphs" style="stroke:#111;stroke-width:0.05;">NR</text>
<text x="344.69" y="1044.38" font-size="12.93" textLength="62.34" lengthAdjust="spacingAndGlyphs" style="stroke:#111;stroke-width:0.05;">&lt; % Mean</text>
<text x="332.49" y="1058.17" font-size="12.93" textLength="85.82" lengthAdjust="spacingAndGlyphs" style="stroke:#111;stroke-width:0.05;">Dose Intensity</text>
<text x="365.96" y="1087.77" font-size="12.93" textLength="20.16" lengthAdjust="spacingAndGlyphs" style="stroke:#111;stroke-width:0.05;">NR</text>
<text x="438.97" y="1055.47" font-size="12.83" textLength="8.94" lengthAdjust="spacingAndGlyphs" style="font-style:italic;stroke:#111;stroke-width:0.05">P</text>
<text x="447.91" y="1055.47" font-size="12.83" textLength="36.50" lengthAdjust="spacingAndGlyphs" style="stroke:#111;stroke-width:0.05">-value</text>
<text x="442.73" y="1087.77" font-size="12.93" textLength="41.83" lengthAdjust="spacingAndGlyphs" style="stroke:#111;stroke-width:0.05;">0.0938</text>
<line x1="146.30" y1="856.40" x2="146.30" y2="1108.40" stroke="#111" stroke-width="2.6" />
<line x1="145.30" y1="1107.20" x2="500.80" y2="1107.20" stroke="#111" stroke-width="2.4" />
<line x1="139.50" y1="1107.20" x2="146.50" y2="1107.20" stroke="#111" stroke-width="2.0" />
<text x="123.15" y="1113.20" font-size="15.33" textLength="9.10" lengthAdjust="spacingAndGlyphs" style="stroke:#111;stroke-width:0.05;">0</text>
<line x1="139.50" y1="1082.74" x2="146.50" y2="1082.74" stroke="#111" stroke-width="2.0" />
<text x="114.07" y="1088.74" font-size="15.33" textLength="18.19" lengthAdjust="spacingAndGlyphs" style="stroke:#111;stroke-width:0.05;">10</text>
<line x1="139.50" y1="1058.28" x2="146.50" y2="1058.28" stroke="#111" stroke-width="2.0" />
<text x="114.07" y="1064.28" font-size="15.33" textLength="18.19" lengthAdjust="spacingAndGlyphs" style="stroke:#111;stroke-width:0.05;">20</text>
<line x1="139.50" y1="1033.82" x2="146.50" y2="1033.82" stroke="#111" stroke-width="2.0" />
<text x="114.07" y="1039.82" font-size="15.33" textLength="18.19" lengthAdjust="spacingAndGlyphs" style="stroke:#111;stroke-width:0.05;">30</text>
<line x1="139.50" y1="1009.36" x2="146.50" y2="1009.36" stroke="#111" stroke-width="2.0" />
<text x="114.07" y="1015.36" font-size="15.33" textLength="18.19" lengthAdjust="spacingAndGlyphs" style="stroke:#111;stroke-width:0.05;">40</text>
<line x1="139.50" y1="984.90" x2="146.50" y2="984.90" stroke="#111" stroke-width="2.0" />
<text x="114.07" y="990.90" font-size="15.33" textLength="18.19" lengthAdjust="spacingAndGlyphs" style="stroke:#111;stroke-width:0.05;">50</text>
<line x1="139.50" y1="960.44" x2="146.50" y2="960.44" stroke="#111" stroke-width="2.0" />
<text x="114.07" y="966.44" font-size="15.33" textLength="18.19" lengthAdjust="spacingAndGlyphs" style="stroke:#111;stroke-width:0.05;">60</text>
<line x1="139.50" y1="935.98" x2="146.50" y2="935.98" stroke="#111" stroke-width="2.0" />
<text x="114.07" y="941.98" font-size="15.33" textLength="18.19" lengthAdjust="spacingAndGlyphs" style="stroke:#111;stroke-width:0.05;">70</text>
<line x1="139.50" y1="911.52" x2="146.50" y2="911.52" stroke="#111" stroke-width="2.0" />
<text x="114.07" y="917.52" font-size="15.33" textLength="18.19" lengthAdjust="spacingAndGlyphs" style="stroke:#111;stroke-width:0.05;">80</text>
<line x1="139.50" y1="887.06" x2="146.50" y2="887.06" stroke="#111" stroke-width="2.0" />
<text x="114.07" y="893.06" font-size="15.33" textLength="18.19" lengthAdjust="spacingAndGlyphs" style="stroke:#111;stroke-width:0.05;">90</text>
<line x1="139.50" y1="862.60" x2="146.50" y2="862.60" stroke="#111" stroke-width="2.0" />
<text x="104.99" y="868.60" font-size="15.33" textLength="27.29" lengthAdjust="spacingAndGlyphs" style="stroke:#111;stroke-width:0.05;">100</text>
<line x1="146.50" y1="1107.20" x2="146.50" y2="1114.20" stroke="#111" stroke-width="2.0" />
<text x="141.95" y="1135.97" font-size="15.73" textLength="9.10" lengthAdjust="spacingAndGlyphs" style="stroke:#111;stroke-width:0.05;">0</text>
<line x1="204.37" y1="1107.20" x2="204.37" y2="1114.20" stroke="#111" stroke-width="2.0" />
<text x="199.82" y="1135.97" font-size="15.73" textLength="9.10" lengthAdjust="spacingAndGlyphs" style="stroke:#111;stroke-width:0.05;">3</text>
<line x1="262.24" y1="1107.20" x2="262.24" y2="1114.20" stroke="#111" stroke-width="2.0" />
<text x="257.69" y="1135.97" font-size="15.73" textLength="9.10" lengthAdjust="spacingAndGlyphs" style="stroke:#111;stroke-width:0.05;">6</text>
<line x1="320.11" y1="1107.20" x2="320.11" y2="1114.20" stroke="#111" stroke-width="2.0" />
<text x="315.56" y="1135.97" font-size="15.73" textLength="9.10" lengthAdjust="spacingAndGlyphs" style="stroke:#111;stroke-width:0.05;">9</text>
<line x1="377.98" y1="1107.20" x2="377.98" y2="1114.20" stroke="#111" stroke-width="2.0" />
<text x="368.88" y="1135.97" font-size="15.73" textLength="18.20" lengthAdjust="spacingAndGlyphs" style="stroke:#111;stroke-width:0.05;">12</text>
<line x1="435.85" y1="1107.20" x2="435.85" y2="1114.20" stroke="#111" stroke-width="2.0" />
<text x="426.75" y="1135.97" font-size="15.73" textLength="18.20" lengthAdjust="spacingAndGlyphs" style="stroke:#111;stroke-width:0.05;">15</text>
<line x1="493.72" y1="1107.20" x2="493.72" y2="1114.20" stroke="#111" stroke-width="2.0" />
<text x="484.62" y="1135.97" font-size="15.73" textLength="18.20" lengthAdjust="spacingAndGlyphs" style="stroke:#111;stroke-width:0.05;">18</text>
<text x="291.51" y="1163.35" font-size="20.08" textLength="60.92" lengthAdjust="spacingAndGlyphs" style="stroke:#111;stroke-width:0.3;">Months</text>
<text transform="translate(92.65,1057.62) rotate(-90)" x="0" y="0" font-size="20.88" textLength="151.26" lengthAdjust="spacingAndGlyphs" style="stroke:#111;stroke-width:0.3;">Overall survival, %</text>
<text x="15.60" y="1187.47" font-size="14.23" textLength="110.56" lengthAdjust="spacingAndGlyphs" style="stroke:#111;stroke-width:0.05;">Patients at Risk</text>
<text x="33.89" y="1211.17" font-size="14.23" textLength="93.54" lengthAdjust="spacingAndGlyphs" style="stroke:#111;stroke-width:0.05;">≥ % Mean DI</text>
<text x="33.57" y="1235.17" font-size="14.23" textLength="93.86" lengthAdjust="spacingAndGlyphs" style="stroke:#111;stroke-width:0.05;">&lt; % Mean DI</text>
<text x="132.86" y="1212.88" font-size="14.93" textLength="27.28" lengthAdjust="spacingAndGlyphs" style="stroke:#111;stroke-width:0.05;">155</text>
<text x="190.73" y="1212.88" font-size="14.93" textLength="27.28" lengthAdjust="spacingAndGlyphs" style="stroke:#111;stroke-width:0.05;">152</text>
<text x="248.60" y="1212.88" font-size="14.93" textLength="27.28" lengthAdjust="spacingAndGlyphs" style="stroke:#111;stroke-width:0.05;">147</text>
<text x="311.02" y="1212.88" font-size="14.93" textLength="18.18" lengthAdjust="spacingAndGlyphs" style="stroke:#111;stroke-width:0.05;">98</text>
<text x="368.89" y="1212.88" font-size="14.93" textLength="18.18" lengthAdjust="spacingAndGlyphs" style="stroke:#111;stroke-width:0.05;">12</text>
<text x="431.30" y="1212.88" font-size="14.93" textLength="9.09" lengthAdjust="spacingAndGlyphs" style="stroke:#111;stroke-width:0.05;">0</text>
<text x="489.17" y="1212.88" font-size="14.93" textLength="9.09" lengthAdjust="spacingAndGlyphs" style="stroke:#111;stroke-width:0.05;">0</text>
<text x="137.41" y="1236.47" font-size="14.93" textLength="18.18" lengthAdjust="spacingAndGlyphs" style="stroke:#111;stroke-width:0.05;">38</text>
<text x="195.28" y="1236.47" font-size="14.93" textLength="18.18" lengthAdjust="spacingAndGlyphs" style="stroke:#111;stroke-width:0.05;">35</text>
<text x="253.15" y="1236.47" font-size="14.93" textLength="18.18" lengthAdjust="spacingAndGlyphs" style="stroke:#111;stroke-width:0.05;">34</text>
<text x="315.56" y="1236.47" font-size="14.93" textLength="9.09" lengthAdjust="spacingAndGlyphs" style="stroke:#111;stroke-width:0.05;">7</text>
<text x="373.43" y="1236.47" font-size="14.93" textLength="9.09" lengthAdjust="spacingAndGlyphs" style="stroke:#111;stroke-width:0.05;">5</text>
<text x="431.30" y="1236.47" font-size="14.93" textLength="9.09" lengthAdjust="spacingAndGlyphs" style="stroke:#111;stroke-width:0.05;">0</text>
<text x="489.17" y="1236.47" font-size="14.93" textLength="9.09" lengthAdjust="spacingAndGlyphs" style="stroke:#111;stroke-width:0.05;">0</text>
<rect x="0" y="0" width="2.6" height="1253" fill="#000"/><rect x="0" y="0" width="520" height="2.6" fill="#000"/><rect x="516.9" y="0" width="3.1" height="1253" fill="#000"/><rect x="0" y="1249.9" width="520" height="3.1" fill="#000"/>
</svg>
</body></html>
